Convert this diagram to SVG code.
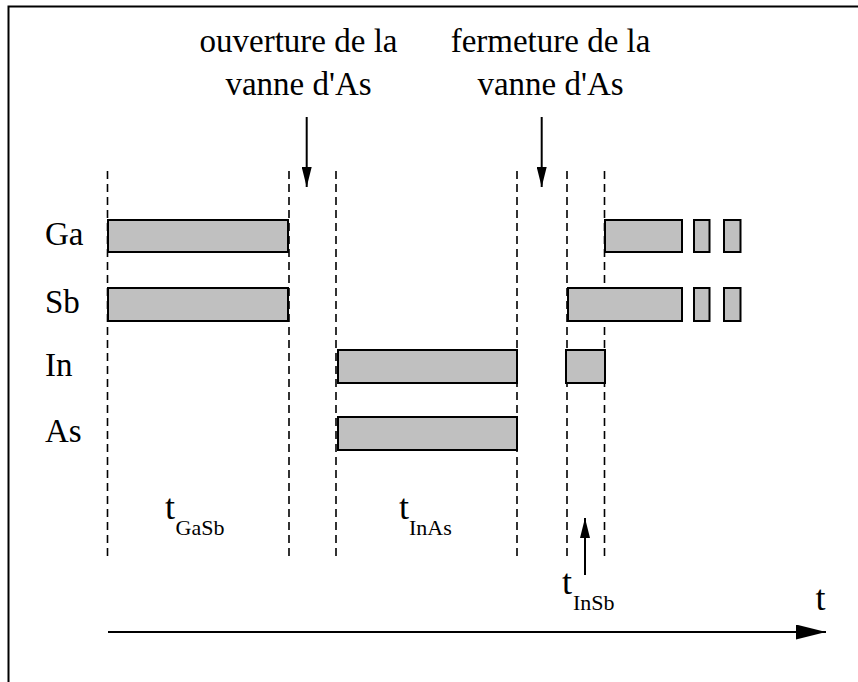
<svg xmlns="http://www.w3.org/2000/svg" width="858" height="682" viewBox="0 0 858 682" font-family="'Liberation Serif', Tinos, 'Times New Roman', Times, 'DejaVu Serif', serif">
<defs>
<style>
text{font-family:'Liberation Serif',Tinos,'Times New Roman',Times,'DejaVu Serif',serif;fill:#000}
.lbl{font-size:33px}
.tm{font-size:36px}
.sub{font-size:22px}
.bar{fill:#c0c0c0;stroke:#000;stroke-width:2}
.dash{stroke:#000;stroke-width:1.6;stroke-dasharray:8 5;fill:none}
.arr{stroke:#000;stroke-width:2;fill:none}
</style>
<marker id="ah" viewBox="0 0 20 10" refX="20" refY="5" markerWidth="20" markerHeight="10" markerUnits="userSpaceOnUse" orient="auto">
<path d="M0,0 L20,5 L0,10 Z" fill="#000"/>
</marker>
<marker id="ahBig" viewBox="0 0 30 15" refX="30" refY="7.5" markerWidth="30" markerHeight="15" markerUnits="userSpaceOnUse" orient="auto">
<path d="M0,0 L30,7.5 L0,15 Z" fill="#000"/>
</marker>
</defs>
<rect width="858" height="682" fill="#fff"/>
<g id="frame"><path d="M8.5,682 V6.5 H858" fill="none" stroke="#000" stroke-width="2"/></g>
<g id="guides">
<line class="dash" x1="107.5" y1="171" x2="107.5" y2="560"/>
<line class="dash" x1="289" y1="171" x2="289" y2="560"/>
<line class="dash" x1="336" y1="171" x2="336" y2="560"/>
<line class="dash" x1="517" y1="171" x2="517" y2="560"/>
<line class="dash" x1="567" y1="171" x2="567" y2="560"/>
<line class="dash" x1="604.5" y1="171" x2="604.5" y2="560"/>
</g>
<g id="row-Ga">
<text class="lbl" x="45" y="245">Ga</text>
<rect class="bar" x="108" y="220" width="180" height="32"/>
<rect class="bar" x="605" y="220" width="77" height="32"/>
<rect class="bar" x="694" y="220" width="15.5" height="32"/>
<rect class="bar" x="724" y="220" width="16.5" height="32"/>
</g>
<g id="row-Sb">
<text class="lbl" x="45" y="313">Sb</text>
<rect class="bar" x="108" y="288" width="180" height="33"/>
<rect class="bar" x="568" y="288" width="114" height="33"/>
<rect class="bar" x="694" y="288" width="15.5" height="33"/>
<rect class="bar" x="724" y="288" width="16.5" height="33"/>
</g>
<g id="row-In">
<text class="lbl" x="45" y="376">In</text>
<rect class="bar" x="338" y="350" width="179" height="33"/>
<rect class="bar" x="566" y="350" width="39" height="33"/>
</g>
<g id="row-As">
<text class="lbl" x="45" y="442">As</text>
<rect class="bar" x="338" y="417" width="179" height="33"/>
</g>
<g id="label-ouverture">
<text class="lbl" x="298.5" y="52" text-anchor="middle">ouverture de la</text>
<text class="lbl" x="298.5" y="95" text-anchor="middle">vanne d'As</text>
</g>
<g id="label-fermeture">
<text class="lbl" x="550.5" y="52" text-anchor="middle">fermeture de la</text>
<text class="lbl" x="550.5" y="95" text-anchor="middle">vanne d'As</text>
</g>
<g id="label-tGaSb"><text class="tm" x="165" y="519">t</text><text class="sub" x="175.5" y="535">GaSb</text></g>
<g id="label-tInAs"><text class="tm" x="399" y="519">t</text><text class="sub" x="409" y="535">InAs</text></g>
<g id="label-tInSb"><text class="tm" x="562" y="594">t</text><text class="sub" x="573" y="610">InSb</text></g>
<g id="label-t"><text class="tm" x="815.5" y="610">t</text></g>
<g id="connectors">
<line class="arr" x1="306.7" y1="117" x2="306.7" y2="187" marker-end="url(#ah)"/>
<line class="arr" x1="541.7" y1="117" x2="541.7" y2="187" marker-end="url(#ah)"/>
<line class="arr" x1="585" y1="575" x2="585" y2="518" marker-end="url(#ah)"/>
<line class="arr" x1="108" y1="632" x2="826" y2="632" marker-end="url(#ahBig)"/>
</g>
</svg>
